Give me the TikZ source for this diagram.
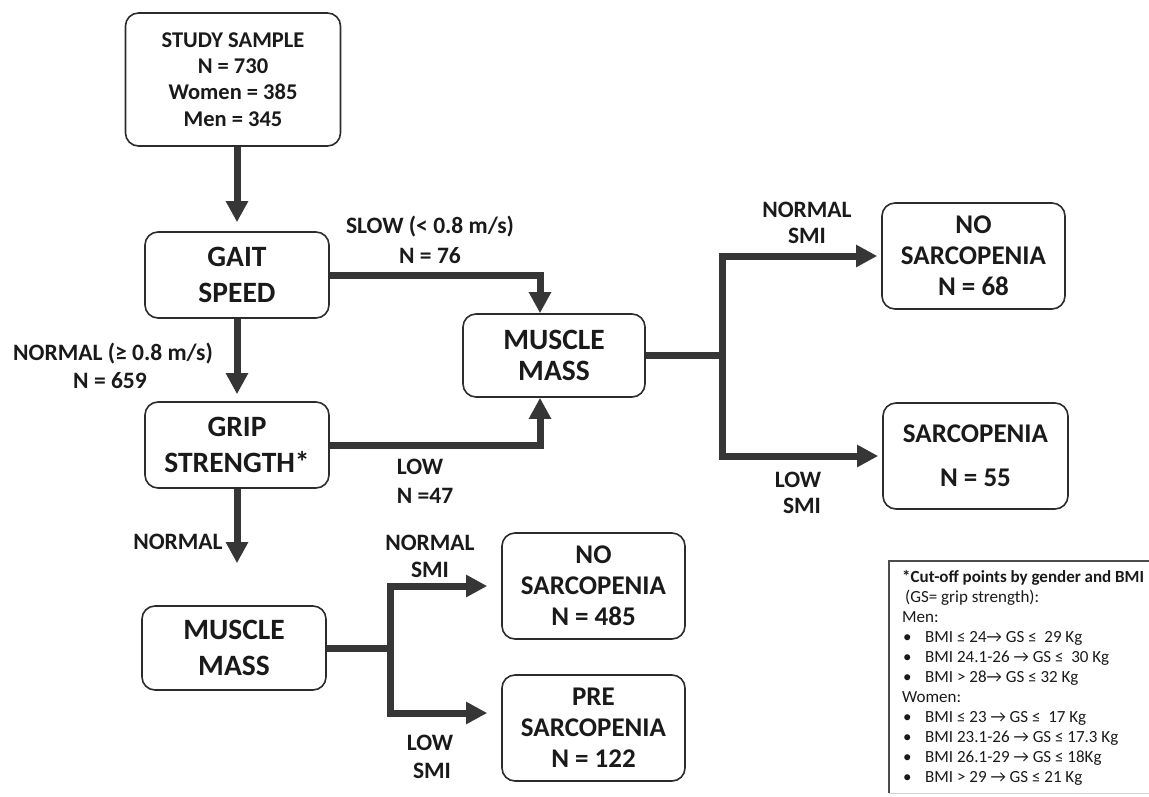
\documentclass[tikz,border=0pt]{standalone}
\usepackage{fontspec}
\setmainfont{Carlito}
\usetikzlibrary{arrows.meta,calc}
\definecolor{ink}{HTML}{1A1A1A}
\definecolor{arrowc}{HTML}{363636}
\definecolor{boxc}{HTML}{2C2C2C}
\tikzset{
  box/.style={draw=boxc, line width=1.6pt, rounded corners=13pt, align=center, text=ink, inner sep=0pt, fill=white},
  bigtxt/.style={font=\fontsize{29.5}{36.5}\selectfont\bfseries},
  midtxt/.style={font=\fontsize{29.5}{31}\selectfont\bfseries},
  restxt/.style={font=\fontsize{27}{31}\selectfont\bfseries},
  studytxt/.style={font=\fontsize{22.5}{26.3}\selectfont\bfseries},
  lab/.style={font=\fontsize{23.5}{28}\selectfont\bfseries, text=ink, anchor=base, inner sep=0pt},
  arr/.style={draw=arrowc, line width=7pt, -{Triangle[length=21pt, width=21pt]}},
  leg/.style={font=\fontsize{17}{20}\selectfont, text=ink, anchor=base west, inner sep=0pt},
  legbold/.style={leg, font=\fontsize{17}{20}\selectfont\bfseries},
  legframe/.style={draw=boxc!85, line width=1.4pt},
  legbottom/.style={draw=black!18, line width=1pt},
}
\newcommand{\bul}{\makebox[22pt][l]{•}}
\begin{document}
\begin{tikzpicture}[x=1pt,y=-1pt]
\useasboundingbox (0,0) rectangle (1149,796);
\fill[white] (0,0) rectangle (1149,796);

% boxes
\node[box, studytxt, minimum width=215pt, minimum height=133pt] (study) at (233,79.5)
  {STUDY SAMPLE\\N = 730\\Women = 385\\Men = 345};
\node[box, bigtxt, minimum width=184pt, minimum height=86pt] (gait) at (237,275) {GAIT\\SPEED};
\node[box, bigtxt, minimum width=184pt, minimum height=86pt] (grip) at (237,445) {GRIP\\STRENGTH*};
\node[box, midtxt, minimum width=182pt, minimum height=83pt] (mm) at (554,355.5) {MUSCLE\\MASS};
\node[box, restxt, minimum width=183pt, minimum height=106pt] (ns1) at (973.5,256) {NO\\SARCOPENIA\\N = 68};
\node[box, restxt, minimum width=185pt, minimum height=106pt] (sc) at (975.5,456) {SARCOPENIA\\[13pt]N = 55};
\node[box, bigtxt, minimum width=184pt, minimum height=84pt] (mm2) at (234,648) {MUSCLE\\MASS};
\node[box, restxt, minimum width=183pt, minimum height=106pt] (ns2) at (593.5,586) {NO\\SARCOPENIA\\N = 485};
\node[box, restxt, minimum width=183pt, minimum height=106pt] (ps) at (593.5,728) {PRE\\SARCOPENIA\\N = 122};

% branch points
\coordinate (br1) at (722,0);
\coordinate (br2) at (390,0);

% connectors
\draw[arr, shorten >=9pt] (study.south -| gait.north) -- (gait.north);
\draw[arr, shorten >=7pt] (gait.south) -- (grip.north);
\draw[arr, shorten >=42pt] (grip.south) -- (grip.south |- mm2.north);
\draw[arr] (gait.east) -| ([xshift=-14pt]mm.north);
\draw[arr] (grip.east) -| ([xshift=-14pt]mm.south);
\draw[arr, shorten >=4pt] (mm.east) -- (br1 |- mm.east) |- (ns1.west);
\draw[arr, shorten >=4pt] (mm.east) -- (br1 |- mm.east) |- (sc.west);
\draw[arr, shorten >=14pt] (mm2.east) -- (br2 |- mm2.east) |- (ns2.west);
\draw[arr, shorten >=14pt] (mm2.east) -- (br2 |- mm2.east) |- ([yshift=15pt]ps.west);

% labels
\node[lab] (slowa) at (430,233) {SLOW (< 0.8 m/s)};
\node[lab] (slowb) at (430,263) {N = 76};
\node[lab] (norma) at (113,360) {NORMAL (≥ 0.8 m/s)};
\node[lab] (normb) at (110,388) {N = 659};
\node[lab] (lowa) at (420,474) {LOW};
\node[lab] (lowb) at (425,503) {N =47};
\node[lab] (nsmia) at (807,217) {NORMAL};
\node[lab] (nsmib) at (807,243) {SMI};
\node[lab] (lsmia) at (798,487) {LOW};
\node[lab] (lsmib) at (802,513) {SMI};
\node[lab] (normc) at (178,549) {NORMAL};
\node[lab] (nsmic) at (430,550) {NORMAL};
\node[lab] (nsmid) at (430,577) {SMI};
\node[lab] (lsmic) at (430,750) {LOW};
\node[lab] (lsmid) at (432,778) {SMI};

% legend
\draw[legbottom] (889,793) -- (1149,793);
\draw[legframe] (1149,561) -- (889,561) -- (889,793);
\node[legbold] (lg0) at (902,582) {*Cut-off points by gender and BMI};
\node[leg] (lg1) at (905,602) {(GS= grip strength):};
\node[leg] (lg2) at (902,622) {Men:};
\node[leg] (lg3) at (903,642) {\bul BMI ≤ 24→ GS ≤\ \ 29 Kg};
\node[leg] (lg4) at (903,662) {\bul BMI 24.1-26 → GS ≤\ \ 30 Kg};
\node[leg] (lg5) at (903,682) {\bul BMI > 28→ GS ≤ 32 Kg};
\node[leg] (lg6) at (902,702) {Women:};
\node[leg] (lg7) at (903,722) {\bul BMI ≤ 23 → GS ≤\ \ 17 Kg};
\node[leg] (lg8) at (903,742) {\bul BMI 23.1-26 → GS ≤ 17.3 Kg};
\node[leg] (lg9) at (903,762) {\bul BMI 26.1-29 → GS ≤ 18Kg};
\node[leg] (lg10) at (903,782) {\bul BMI > 29 → GS ≤ 21 Kg};
\end{tikzpicture}
\end{document}
